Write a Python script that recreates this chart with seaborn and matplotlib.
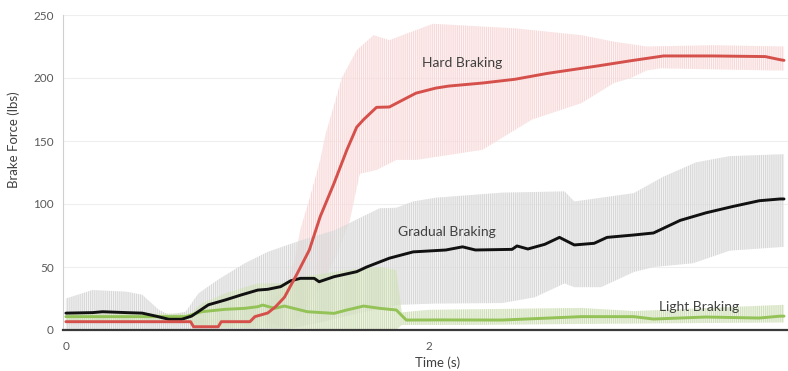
import matplotlib
matplotlib.use("Agg")
import matplotlib.pyplot as plt
import seaborn as sns

# --- data (time in s, force in lbs) ---
t_hard = [0, 0.687, 0.703, 0.839, 0.856, 1.014, 1.041, 1.112, 1.155, 1.204, 1.275,
          1.341, 1.401, 1.477, 1.548, 1.602, 1.640, 1.711, 1.782, 1.875, 1.929,
          2.038, 2.109, 2.294, 2.474, 2.654, 2.926, 3.112, 3.292, 3.564, 3.853,
          3.935, 3.956]
hard_mean = [6.6, 6.6, 2.6, 2.6, 6.6, 6.6, 10.6, 13.5, 18.5, 26, 45,
             63.5, 90, 116.4, 143, 161, 167, 176.7, 177, 184, 188,
             192, 193.6, 196, 199, 203.7, 209.5, 213.7, 217.5, 217.5, 217,
             214.5, 214]

t_hard_hi = [0, 1.014, 1.041, 1.183, 1.259, 1.292, 1.346, 1.401, 1.430, 1.520,
             1.602, 1.695, 1.782, 1.929, 2.022, 2.474, 2.839, 3.019, 3.199,
             3.564, 3.956]
hard_hi = [8.6, 8.6, 12.6, 30, 55, 80, 106, 135, 155, 200,
           222, 234, 230, 238, 243, 239.4, 234, 228.8, 225,
           226, 225]

t_hard_lo = [0, 0.687, 0.703, 0.839, 0.856, 1.014, 1.041, 1.112, 1.221, 1.275,
             1.384, 1.493, 1.564, 1.619, 1.711, 1.820, 1.929, 2.294, 2.567,
             2.839, 3.019, 3.112, 3.199, 3.275, 3.891, 3.956]
hard_lo = [4.6, 4.6, 0.6, 0.6, 4.6, 4.6, 7, 6, 2, 8,
           30, 60, 87, 124, 127, 135, 135, 143, 167,
           180, 196, 200, 206, 207.7, 206, 206]

t_grad = [0, 0.147, 0.202, 0.332, 0.42, 0.496, 0.567, 0.638, 0.692, 0.785,
          0.877, 0.965, 1.057, 1.112, 1.183, 1.237, 1.292, 1.368, 1.395, 1.477,
          1.602, 1.657, 1.782, 1.913, 2.093, 2.185, 2.256, 2.458, 2.485, 2.545,
          2.638, 2.719, 2.801, 2.910, 2.981, 3.128, 3.237, 3.384, 3.526, 3.673,
          3.820, 3.935, 3.956]
grad_mean = [13.4, 13.8, 14.5, 13.8, 13.4, 11, 8.5, 8.5, 11, 20,
             23.8, 27.8, 31.7, 32.3, 34.4, 39, 41, 41, 38.3, 42.3,
             46.3, 50, 57, 62, 63.5, 66, 63.5, 64, 66.7, 64.3,
             68, 73.5, 67.5, 68.8, 73.5, 75.4, 77, 87, 93, 98,
             102.6, 104, 104]

t_grad_hi = [0, 0.147, 0.332, 0.42, 0.512, 0.567, 0.66, 0.73, 0.839, 0.986,
             1.057, 1.112, 1.292, 1.477, 1.564, 1.728, 1.820, 1.913, 2.038,
             2.403, 2.747, 2.801, 3.128, 3.292, 3.471, 3.657, 3.956]
grad_hi = [25, 31.7, 30.4, 28, 16, 12, 14.5, 29, 40, 53,
           58, 62, 71, 79, 85, 96.6, 97, 102, 105,
           109, 110, 102, 108.6, 121.7, 133, 138, 139.5]

t_grad_lo = [0, 1.2, 1.4, 1.6, 1.837, 2.038, 2.403, 2.583, 2.747, 2.801,
             2.948, 3.128, 3.237, 3.455, 3.657, 3.956]
grad_lo = [0, 0, 6, 13, 20, 21, 21.4, 26, 37, 34,
           34, 46, 50, 53, 63, 66]

t_light = [0, 0.66, 0.747, 0.877, 0.986, 1.057, 1.084, 1.150, 1.204, 1.330,
           1.477, 1.548, 1.640, 1.728, 1.820, 1.875, 2.06, 2.403, 2.839, 3.128,
           3.237, 3.526, 3.820, 3.935, 3.956]
light_mean = [10.6, 10.6, 14.5, 16.4, 17.2, 18.5, 19.8, 17.2, 19, 14.5,
              13.2, 15.9, 19, 17.2, 15.9, 7.9, 8, 7.9, 10.6, 10.6,
              8.7, 10.3, 9.5, 11, 11]

t_light_hi = [0, 0.687, 0.747, 0.877, 0.986, 1.057, 1.183, 1.292, 1.548, 1.728,
              1.820, 1.850, 2.0, 2.839, 3.128, 3.956]
light_hi = [13, 13, 21, 29, 34, 37, 37, 42, 47.6, 50,
            47.6, 14, 16, 17.5, 15, 20]

t_light_lo = [0, 0.66, 0.747, 1.820, 1.850, 2.2, 3.0, 3.956]
light_lo = [7, 7, 2, 0, 4, 4, 5, 6]

labels = ["Hard Braking", "Gradual Braking", "Light Braking"]
label_pos = [(2.185, 212), (2.098, 78), (3.488, 18.5)]

red = "#d5504b"
black = "#111111"
green = "#93c256"

sns.set_style("white")
plt.rcParams["font.family"] = ["Lato", "DejaVu Sans"]
plt.rcParams["hatch.linewidth"] = 0.8

fig = plt.figure(figsize=(7.88, 3.71), dpi=100)
ax = fig.add_axes([63 / 788, 41 / 371, 729 / 788, 315 / 371])

stripes = "|" * 8


def band(ax, t_lo, lo, t_hi, hi, face, line):
    # one polygon from upper edge out and lower edge back, striped like error bars
    xs = list(t_hi) + list(t_lo)[::-1]
    ys = list(hi) + list(lo)[::-1]
    ax.fill(xs, ys, facecolor=face, edgecolor=line, hatch=stripes, linewidth=0)


band(ax, t_hard_lo, hard_lo, t_hard_hi, hard_hi, (0.99, 0.90, 0.90, 0.35), "#f8d8d8")
band(ax, t_grad_lo, grad_lo, t_grad_hi, grad_hi, (0.88, 0.88, 0.88, 0.35), "#d8d8d8")
band(ax, t_light_lo, light_lo, t_light_hi, light_hi, (0.86, 0.91, 0.79, 0.35), "#d0dfb8")

sns.lineplot(x=t_light, y=light_mean, color=green, lw=2.1, ax=ax)
sns.lineplot(x=t_grad, y=grad_mean, color=black, lw=2.1, ax=ax)
sns.lineplot(x=t_hard, y=hard_mean, color=red, lw=2.1, ax=ax)

for txt, (x, y) in zip(labels, label_pos):
    ax.text(x, y, txt, ha="center", va="center", fontsize=10, color="#404040")

ax.set_xlim(-0.016, 3.956)
ax.set_ylim(0, 250)
ax.set_xticks([0, 2, 4])
ax.set_yticks([0, 50, 100, 150, 200, 250])
ax.grid(axis="y", color="#eeeeee", lw=0.8)
ax.set_axisbelow(True)

for side in ["top", "right"]:
    ax.spines[side].set_visible(False)
ax.spines["left"].set_color("#d0d0d0")
ax.spines["bottom"].set_color("#3a3a3a")
ax.spines["bottom"].set_linewidth(1.6)

ax.tick_params(axis="y", length=2.5, color="#d0d0d0", pad=4,
               labelsize=8.5, labelcolor="#595959")
ax.tick_params(axis="x", length=0, pad=8, labelsize=8.5, labelcolor="#595959")

ax.set_ylabel("Brake Force (lbs)", fontsize=9.5, color="#404040")
ax.yaxis.set_label_coords(-0.059, 0.603)
ax.set_xlabel("Time (s)", fontsize=9.5, color="#404040")
ax.xaxis.set_label_coords(0.514, -0.085)

fig.savefig("out.png", dpi=100)
